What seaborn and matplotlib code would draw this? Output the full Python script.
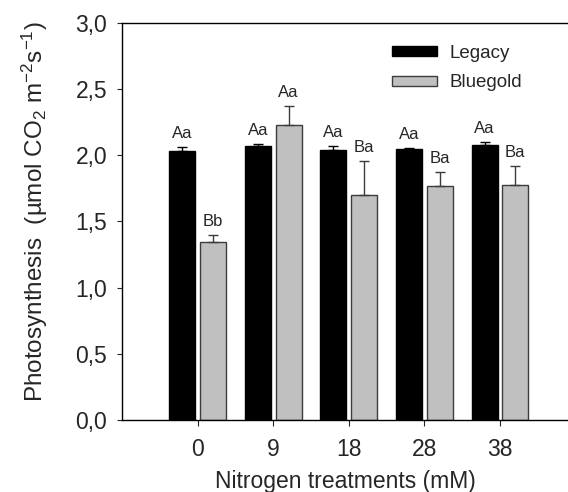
import numpy as np
import pandas as pd
import matplotlib
matplotlib.use("Agg")
import matplotlib.pyplot as plt
import seaborn as sns

# values
treatments = ["0", "9", "18", "28", "38"]
cultivars = ["Legacy", "Bluegold"]
legacy_mean = [2.035, 2.07, 2.04, 2.05, 2.076]
legacy_se = [0.025, 0.013, 0.03, 0.004, 0.024]
bluegold_mean = [1.345, 2.227, 1.70, 1.769, 1.776]
bluegold_se = [0.055, 0.149, 0.26, 0.105, 0.141]
legacy_letters = ["Aa", "Aa", "Aa", "Aa", "Aa"]
bluegold_letters = ["Bb", "Aa", "Ba", "Ba", "Ba"]

df = pd.DataFrame({
    "treatment": treatments * 2,
    "cultivar": [cultivars[0]] * 5 + [cultivars[1]] * 5,
    "rate": legacy_mean + bluegold_mean,
})

sns.set_style("ticks")
plt.rcParams["font.family"] = ["Liberation Sans", "DejaVu Sans"]
plt.rcParams["mathtext.fontset"] = "custom"
plt.rcParams["mathtext.rm"] = "Liberation Sans"
plt.rcParams["mathtext.it"] = "Liberation Sans:italic"

edge_cols = ["black", "#3c3c3c"]

fig = plt.figure(figsize=(5.68, 4.92), dpi=100)
ax = fig.add_axes([0.2148, 0.1463, 0.7852, 0.807])

sns.barplot(data=df, x="treatment", y="rate", hue="cultivar",
            order=treatments, hue_order=cultivars,
            palette=["black", "#c0c0c0"], errorbar=None,
            width=0.812, gap=0.153, saturation=1, ax=ax)

# bar edges
for cont, ec in zip(ax.containers, edge_cols):
    for p in cont:
        p.set_edgecolor(ec)
        p.set_linewidth(1.0)

# one-sided error bars + letters
for cont, means, ses, letters, col in zip(
        ax.containers, [legacy_mean, bluegold_mean], [legacy_se, bluegold_se],
        [legacy_letters, bluegold_letters], edge_cols):
    xs = [p.get_x() + p.get_width() / 2 for p in cont]
    ax.errorbar(xs, means, yerr=[np.zeros(len(ses)), ses], fmt="none",
                ecolor=col, elinewidth=1.0, capsize=3.6, capthick=1.0, zorder=1)
    for x, m, s, lab in zip(xs, means, ses, letters):
        ax.annotate(lab, (x, m + s), xytext=(0, 6.5), textcoords="offset points",
                    ha="center", va="baseline", fontsize=12)

ax.set_xlim(-1.0, 4.9)
ax.set_ylim(0, 3.0)
ax.set_yticks(np.arange(0, 3.01, 0.5))
ax.set_yticklabels([f"{v:.1f}".replace(".", ",") for v in np.arange(0, 3.01, 0.5)])

ax.tick_params(axis="y", length=3.6, width=0.8, pad=7, labelsize=16.5)
ax.tick_params(axis="x", length=4, width=0.8, pad=9, labelsize=16.5)
for s in ["left", "bottom", "top"]:
    ax.spines[s].set_linewidth(1.0)
    ax.spines[s].set_color("black")
ax.spines["right"].set_visible(False)

ax.set_xlabel("Nitrogen treatments (mM)", fontsize=16.5)
ax.set_ylabel("Photosynthesis  (µmol CO$_2$ m$^{\\mathrm{-2}}$s$^{\\mathrm{-1}}$)",
              fontsize=17.5)
ax.yaxis.set_label_coords(-0.162, 0.525)
ax.xaxis.set_label_coords(0.5, -0.126)

leg = ax.legend(title=None, frameon=False, loc="upper left",
                bbox_to_anchor=(0.605, 0.945), borderpad=0, borderaxespad=0,
                handlelength=2.4, handleheight=0.45, handletextpad=0.65,
                labelspacing=0.67, fontsize=13.5)
for h, ec in zip(leg.legend_handles, edge_cols):
    h.set_edgecolor(ec)
    h.set_linewidth(1.0)

fig.savefig("out.png", dpi=100)
